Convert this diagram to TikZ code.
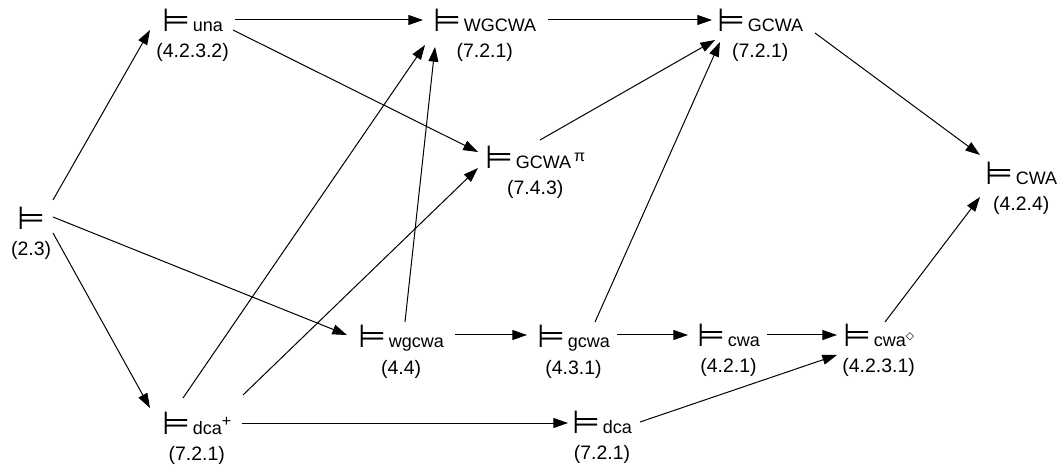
\documentclass[tikz,border=0pt]{standalone}
\usepackage{fontspec}
\setmainfont{Liberation Sans}
\newfontfamily\dejavu{DejaVu Sans}
\usetikzlibrary{arrows.meta}
% entailment sign, sitting on the text baseline
\newcommand\ent{{\dejavu\fontsize{24pt}{24pt}\selectfont ⊨}\hspace{2pt}}
% small raised mark after a relation name
\newcommand\supmark[2][12pt]{\raisebox{0.42em}{\fontsize{#1}{#1}\selectfont #2}}

\begin{document}
\begin{tikzpicture}[x=0.75pt,y=-0.75pt,
  item/.style={inner sep=0pt, anchor=base west, font=\fontsize{13.5pt}{16pt}\selectfont},
  reflab/.style={inner sep=0pt, anchor=base, font=\fontsize{14.6pt}{17pt}\selectfont},
  arr/.style={line width=0.75pt, -{Triangle[length=11pt,width=7.5pt]}}]
\useasboundingbox (0,0) rectangle (1063,466);

% relations
\node[item] (root) at (17,230)  {\ent};
\node[item] (una)  at (162,32)  {\ent una};
\node[item] (W)    at (433,32)  {\ent WGCWA};
\node[item] (G)    at (717,32)  {\ent GCWA};
\node[item] (Gp)   at (485,169) {\ent GCWA\,\supmark{π}};
\node[item] (C)    at (985,185) {\ent CWA};
\node[item] (w)    at (358,348) {\ent wgcwa};
\node[item] (g)    at (537,348) {\ent gcwa};
\node[item] (c)    at (697,347) {\ent cwa};
\node[item] (cd)   at (843,347) {\ent cwa\supmark[8pt]{\dejavu ◇}};
\node[item] (dp)   at (162,434) {\ent dca\supmark{+}};
\node[item] (d)    at (572,433) {\ent dca};

% section references
\foreach \n/\t in {root/2.3, una/4.2.3.2, W/7.2.1, G/7.2.1, Gp/7.4.3, C/4.2.4,
                   w/4.4, g/4.3.1, c/4.2.1, cd/4.2.3.1, dp/7.2.1, d/7.2.1}
  \node[reflab] (\n-l) at ([yshift=-19.5pt]\n.base) {(\t)};

% implications
\draw[arr] ([shift={(36,-30)}]root.base west) -- ([shift={(-12,-2)}]una.base west);
\draw[arr] ([shift={(36,-13)}]root.base west) -- ([shift={(-11,-13)}]w.base west);
\draw[arr] ([shift={(36,3)}]root.base west)   -- ([shift={(-12,-26)}]dp.base west);
\draw[arr] ([shift={(73,-12)}]una.base west)  -- ([shift={(-10,-12)}]W.base west);
\draw[arr] ([shift={(71,-2)}]una.base west)   -- ([shift={(-7,-17)}]Gp.base west);
\draw[arr] ([shift={(115,-12)}]W.base west)   -- ([shift={(-5,-12)}]G.base west);
\draw[arr] ([shift={(98,1)}]G.base west)      -- ([shift={(-5,-30)}]C.base west);
\draw[arr] ([shift={(55,-29)}]Gp.base west)   -- ([shift={(-2,8)}]G.base west);
\draw[arr] ([shift={(47,-26)}]w.base west)    -- ([shift={(2,15)}]W.base west);
\draw[arr] ([shift={(21,-36)}]dp.base west)   -- ([shift={(-8,13)}]W.base west);
\draw[arr] ([shift={(81,-39)}]dp.base west)   -- ([shift={(-7,-1)}]Gp.base west);
\draw[arr] ([shift={(80,-11)}]dp.base west)   -- ([shift={(-4,-10)}]d.base west);
\draw[arr] ([shift={(97,-13)}]w.base west)    -- ([shift={(-10,-13)}]g.base west);
\draw[arr] ([shift={(58,-26)}]g.base west)    -- ([shift={(3,10)}]G.base west);
\draw[arr] ([shift={(80,-13)}]g.base west)    -- ([shift={(-9,-12)}]c.base west);
\draw[arr] ([shift={(70,-12)}]c.base west)    -- ([shift={(-6,-12)}]cd.base west);
\draw[arr] ([shift={(68,-11)}]d.base west)    -- ([shift={(-6,8)}]cd.base west);
\draw[arr] ([shift={(42,-25)}]cd.base west)   -- ([shift={(-5,12)}]C.base west);
\end{tikzpicture}
\end{document}
